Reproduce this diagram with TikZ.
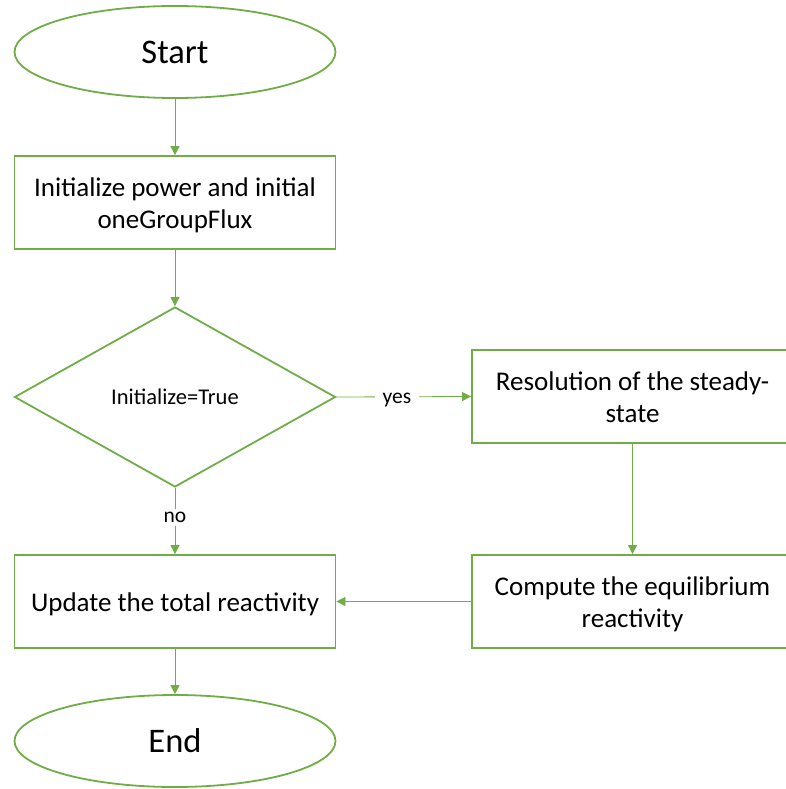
\documentclass[tikz,border=0pt]{standalone}
\usepackage{fontspec}
\setmainfont{Carlito}
\usetikzlibrary{shapes.geometric,arrows.meta}
\definecolor{ogreen}{HTML}{70AD47}
\begin{document}
\begin{tikzpicture}[x=1pt,y=-1pt,
  term/.style={ellipse,draw=ogreen,line width=1.8pt,minimum width=321pt,minimum height=92pt,inner sep=0pt,font=\fontsize{34.5}{40}\selectfont},
  proc/.style={rectangle,draw=ogreen,line width=1.8pt,minimum width=321pt,minimum height=93pt,inner sep=0pt},
  ptext/.style={align=center,inner sep=0pt,font=\fontsize{27}{32}\selectfont},
  decis/.style={diamond,draw=ogreen,line width=1.8pt,minimum width=321pt,minimum height=180pt,inner sep=0pt,font=\fontsize{22.5}{26}\selectfont},
  conn/.style={draw=ogreen,line width=0.8pt,-{Triangle[length=9pt,width=9pt]}},
  lbl/.style={fill=white,inner xsep=8pt,inner ysep=3pt,yshift=-3pt,font=\fontsize{21.5}{24}\selectfont}]
\useasboundingbox (0,0) rectangle (786,789);
\node[term] (start) at (175,52) {Start};
\node[proc] (init) at (175,202.5) {};
\node[ptext] (initT) at ([yshift=-2.5pt]init.center) {Initialize power and initial\\oneGroupFlux};
\node[decis] (dec) at (175,397) {Initialize=True};
\node[proc] (res) at (632.5,396.5) {};
\node[ptext] (resT) at ([yshift=-1pt]res.center) {Resolution of the steady-\\state};
\node[proc] (upd) at (175,601.5) {};
\node[ptext] (updT) at ([yshift=-2.5pt]upd.center) {Update the total reactivity};
\node[proc] (comp) at (632.5,601.5) {};
\node[ptext] (compT) at ([yshift=-2.5pt]comp.center) {Compute the equilibrium\\reactivity};
\node[term] (end) at (175,741) {End};
\draw[conn] (start) -- (init);
\draw[conn] (init) -- (dec);
\draw[conn] (dec.east) -- node[lbl,pos=0.45]{yes} (res.west);
\draw[conn] (dec.south) -- node[lbl,pos=0.4]{no} (upd.north);
\draw[conn] (res) -- (comp);
\draw[conn] (comp) -- (upd);
\draw[conn] (upd) -- (end);
\end{tikzpicture}
\end{document}
